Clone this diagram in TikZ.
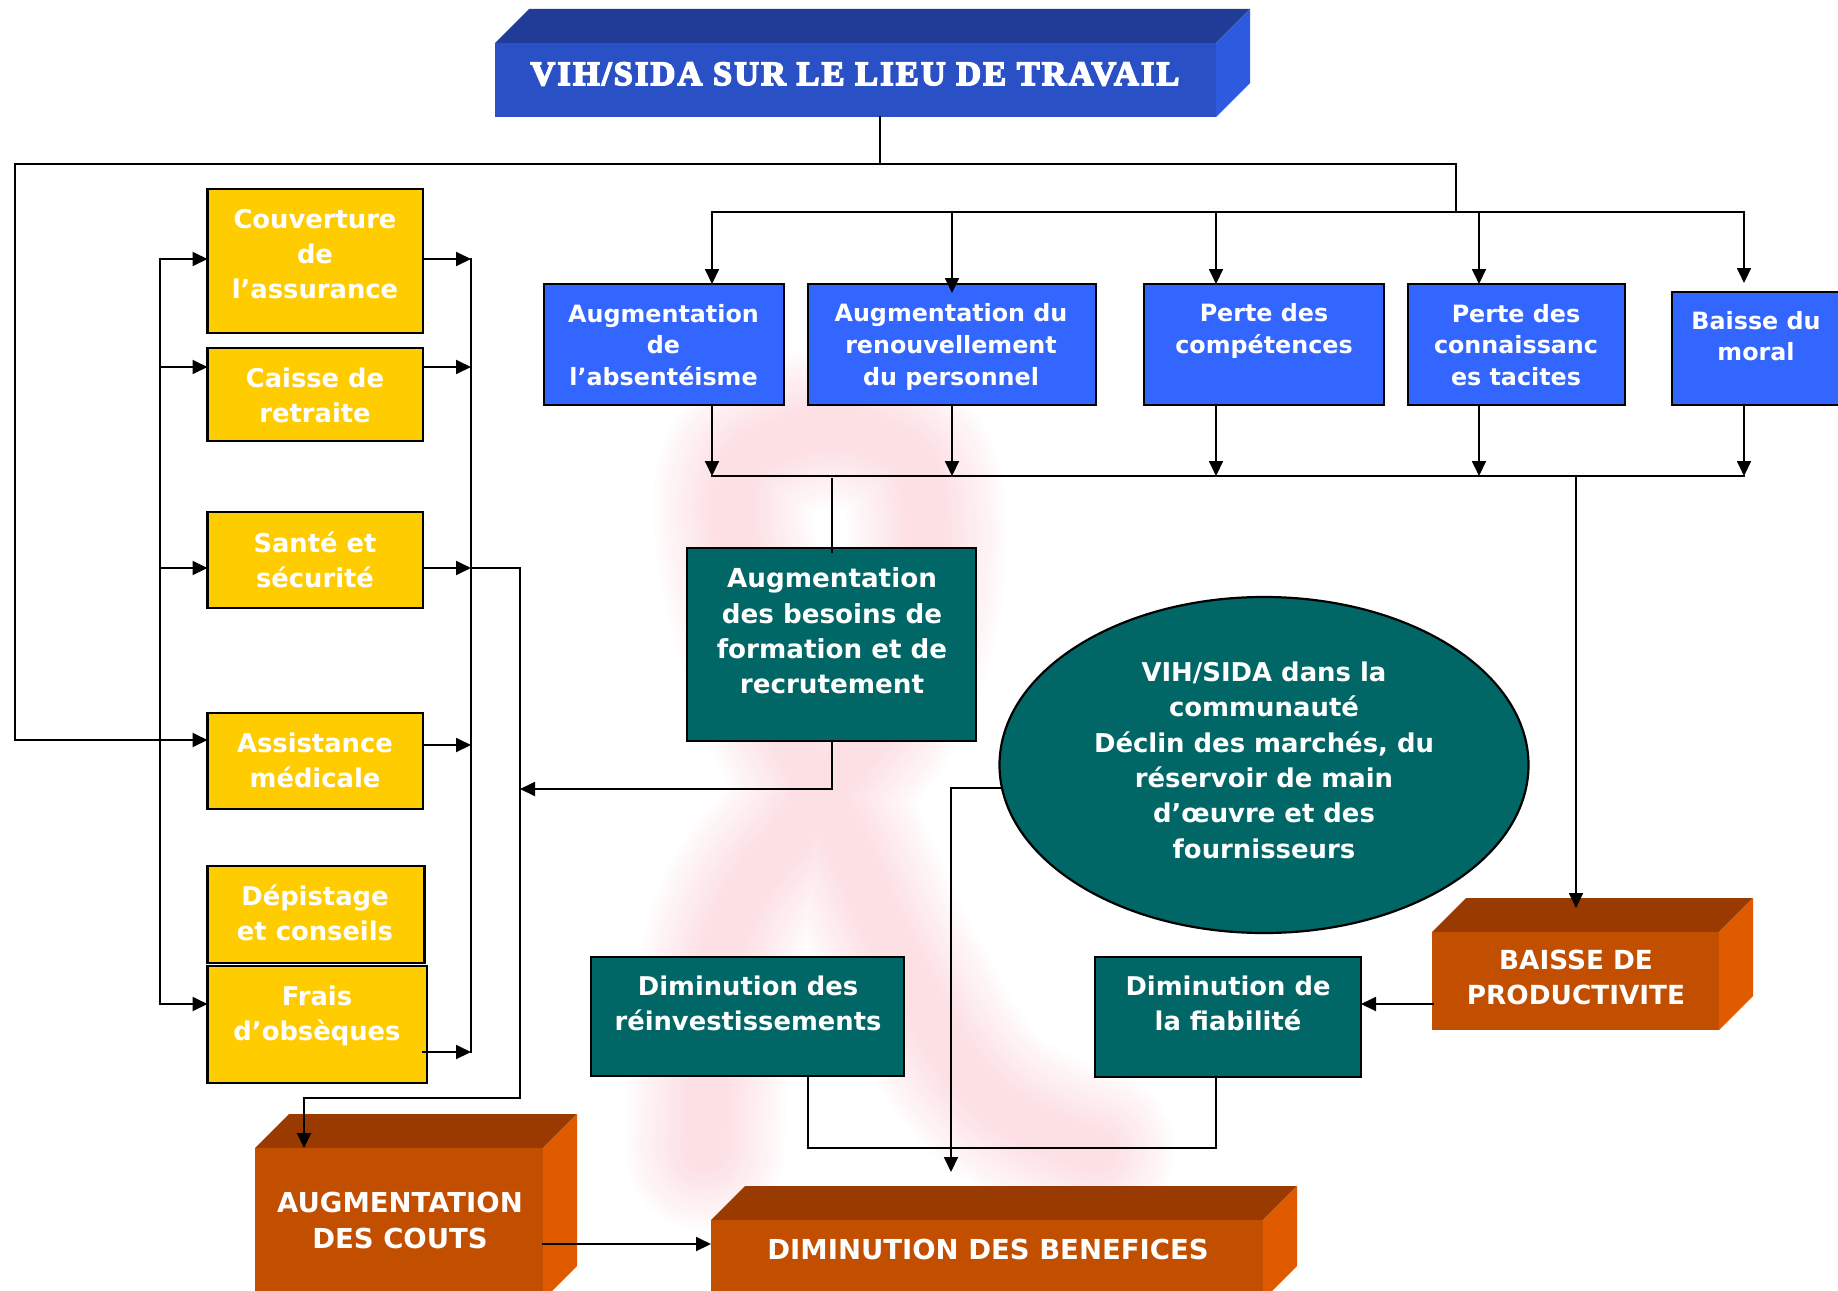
\documentclass[tikz,border=0pt]{standalone}
\usepackage{fontspec}
\setmainfont{DejaVu Sans}
\newfontfamily\titlefont{Liberation Serif}[FakeBold=5,LetterSpace=7]
\usetikzlibrary{shapes.geometric,arrows.meta}
\definecolor{tealbox}{HTML}{006666}
\definecolor{bluebox}{HTML}{3366FF}
\definecolor{yellowbox}{HTML}{FFCC00}
\definecolor{titlefront}{HTML}{2A50C6}
\definecolor{titletop}{HTML}{203C96}
\definecolor{titleside}{HTML}{2E5AE0}
\definecolor{orangefront}{HTML}{C24E00}
\definecolor{orangetop}{HTML}{993A00}
\definecolor{orangeside}{HTML}{E05A00}
\definecolor{ribbonpink}{HTML}{F58A9A}
\tikzset{
  wire/.style={draw=black,line width=1.9pt,line cap=rect},
  wirearrow/.style={wire,-{Triangle[length=15pt,width=14pt]}},
  flatcard/.style={draw=black,line width=2.2pt,inner sep=0pt,outer sep=0pt},
  solidface/.style={rectangle,inner sep=0pt,outer sep=0pt},
  caption/.style 2 args={text=white,align=center,inner sep=0pt,font=\bfseries\fontsize{#1}{#2}\selectfont},
  ribbon/.style={draw=ribbonpink,line cap=round,line join=round},
}
% text size used by the boxes that follow
\newcommand{\capsize}{26}
\newcommand{\capskip}{35}
% flat box: name, x0, y0, x1, y1, fill, caption centre x, caption centre y, caption
\newcommand{\cardbox}[9]{%
  \node[rectangle,flatcard,fill=#6,anchor=north west,
     minimum width={(#4-#2)*1pt},minimum height={(#5-#3)*1pt}] (#1) at (#2,#3) {};
  \node[caption={\capsize}{\capskip}] (#1-text) at (#7,#8) {#9};}
% raised box: name, x0, y0, x1, y1, depth, front, top, side
\newcommand{\solidblock}[9]{%
  \fill[#8] (#2,#3) -- ({#2+#6},{#3-#6}) -- ({#4+#6},{#3-#6}) -- (#4,#3) -- cycle;
  \fill[#9] (#4,#3) -- ({#4+#6},{#3-#6}) -- ({#4+#6},{#5-#6}) -- (#4,#5) -- cycle;
  \node[solidface,fill=#7,anchor=north west,
     minimum width={(#4-#2)*1pt},minimum height={(#5-#3)*1pt}] (#1) at (#2,#3) {};}
\begin{document}
\begin{tikzpicture}[x=1pt,y=-1pt]
\useasboundingbox (0,0) rectangle (1838,1290);
\clip (0,0) rectangle (1838,1290);

% faint ribbon emblem behind the chart
\foreach \w in {160,150,140,130,120,110,100,90,80,70,60,50,40}{
  \draw[ribbon,opacity=0.024,line width=\w pt] plot[smooth,tension=0.7] coordinates
    {(705,1150) (725,941) (800,820) (900,680) (925,500) (870,435) (780,440) (733,500) (770,680) (850,850) (900,960) (985,1094) (1095,1150)};
}

% raised title and result boxes
\solidblock{title}{495}{43}{1216}{117}{34}{titlefront}{titletop}{titleside}
\node[text=white,inner sep=0pt,font=\titlefont\bfseries\fontsize{34}{35}\selectfont] (title-text) at (855,74) {VIH/SIDA SUR LE LIEU DE TRAVAIL};
\solidblock{prod}{1432}{932}{1719}{1030}{34}{orangefront}{orangetop}{orangeside}
\solidblock{costs}{255}{1148}{543}{1300}{34}{orangefront}{orangetop}{orangeside}
\solidblock{profit}{711}{1220}{1263}{1300}{34}{orangefront}{orangetop}{orangeside}
\node[caption={26.3}{35}] (prod-text) at (1576,977) {BAISSE DE\\PRODUCTIVITE};
\node[caption={27.5}{35.5}] (costs-text) at (400,1220.5) {AUGMENTATION\\DES COUTS};
\node[caption={27.5}{35}] (profit-text) at (988,1249) {DIMINUTION DES BENEFICES};

% consequences for staff
\renewcommand{\capsize}{23.8}\renewcommand{\capskip}{31.6}
\cardbox{absent}{544}{284}{784}{405}{bluebox}{663.5}{345}{Augmentation\\de\\l’absentéisme}
\cardbox{turnover}{808}{284}{1096}{405}{bluebox}{951}{347}{Augmentation du\\renouvellement\\du personnel}
\cardbox{skills}{1144}{284}{1384}{405}{bluebox}{1264}{331}{Perte des\\compétences}
\cardbox{tacit}{1408}{284}{1625}{405}{bluebox}{1516}{345}{Perte des\\connaissanc\\es tacites}
\cardbox{morale}{1672}{292}{1845}{405}{bluebox}{1756}{336}{Baisse du\\moral}

% benefit and care items
\renewcommand{\capsize}{25.8}\renewcommand{\capskip}{35}
\cardbox{insurance}{207.5}{189}{423}{333}{yellowbox}{315}{254}{Couverture\\de\\l’assurance}
\cardbox{pension}{207.5}{348}{423}{441}{yellowbox}{315}{395}{Caisse de\\retraite}
\cardbox{health}{207.5}{512}{423}{608}{yellowbox}{315}{560}{Santé et\\sécurité}
\cardbox{medical}{207.5}{713}{423}{809}{yellowbox}{315}{760}{Assistance\\médicale}
\cardbox{testing}{207.5}{866}{424.5}{963}{yellowbox}{315}{913}{Dépistage\\et conseils}
\cardbox{funeral}{207.5}{966}{427}{1083}{yellowbox}{317}{1016}{Frais\\d’obsèques}

% organisational effects
\renewcommand{\capsize}{26.2}\renewcommand{\capskip}{35.4}
\cardbox{training}{687}{548}{976}{741}{tealbox}{832}{631}{Augmentation\\des besoins de\\formation et de\\recrutement}
\renewcommand{\capsize}{25.8}
\cardbox{reinvest}{591}{957}{904}{1076}{tealbox}{748}{1003.5}{Diminution des\\réinvestissements}
\cardbox{reliability}{1095}{957}{1361}{1077}{tealbox}{1228}{1003.5}{Diminution de\\la fiabilité}
\node[ellipse,flatcard,fill=tealbox,minimum width=529pt,minimum height=336pt] (community) at (1264,765) {};
\node[caption={25.9}{35.4}] (community-text) at (1264,760.2) {VIH/SIDA dans la\\communauté\\Déclin des marchés, du\\réservoir de main\\d’œuvre et des\\fournisseurs};

% junction points
\coordinate (trunk) at (880,164);
\coordinate (farleft) at (15,164);
\coordinate (trunkright) at (1456,164);
\coordinate (rowhub) at (1456,212);
\coordinate (rowleft) at (712,212);
\coordinate (rowmidA) at (952,212);
\coordinate (rowmidB) at (1216,212);
\coordinate (rowmidC) at (1479,212);
\coordinate (rowright) at (1744,212);
\coordinate (farleftlow) at (15,740);
\coordinate (turnoverhead) at (952,293);
\coordinate (moralehead) at (1744,283);

% distribution from the title
\draw[wire] (title.south -| trunk) -- (trunk);
\draw[wire] (trunkright) -- (rowhub);
\draw[wirearrow] (trunkright) -- (farleft) -- (farleftlow) -- (medical.west |- farleftlow);
\draw[wire] (rowleft) -- (rowright);
\draw[wirearrow] (rowleft) -- (absent.north -| rowleft);
\draw[wirearrow] (rowmidA) -- (turnoverhead);
\draw[wirearrow] (rowmidB) -- (skills.north -| rowmidB);
\draw[wirearrow] (rowmidC) -- (tacit.north -| rowmidC);
\draw[wirearrow] (rowright) -- (moralehead);

% collection line under the staff boxes
\coordinate (collectL) at (712,476);
\coordinate (collectT) at (952,476);
\coordinate (collectS) at (1216,476);
\coordinate (collectC) at (1479,476);
\coordinate (collectR) at (1744,476);
\draw[wire] (collectL) -- (collectR);
\draw[wirearrow] (absent.south -| collectL) -- (collectL);
\draw[wirearrow] (turnover.south -| collectT) -- (collectT);
\draw[wirearrow] (skills.south -| collectS) -- (collectS);
\draw[wirearrow] (tacit.south -| collectC) -- (collectC);
\draw[wirearrow] (morale.south -| collectR) -- (collectR);

% left feed bus and right collector bus
\coordinate (feedTop) at (160,259);
\coordinate (feedPension) at (160,367);
\coordinate (feedHealth) at (160,568);
\coordinate (feedFuneral) at (160,1004);
\coordinate (sumTop) at (471,259);
\coordinate (sumPension) at (471,367);
\coordinate (sumHealth) at (471,568);
\coordinate (sumMedical) at (471,745);
\coordinate (sumFuneral) at (471,1052);
\coordinate (costBus) at (520,568);
\coordinate (costBusLow) at (520,1098);
\coordinate (costDrop) at (304,1098);
\coordinate (trainingIn) at (520,789);
\coordinate (costsHead) at (304,1148);
\draw[wire] (feedTop) -- (feedFuneral);
\draw[wire] (sumTop) -- (sumFuneral);
\draw[wirearrow] (feedTop) -- (insurance.west |- feedTop);
\draw[wirearrow] (feedPension) -- (pension.west |- feedPension);
\draw[wirearrow] (feedHealth) -- (health.west |- feedHealth);
\draw[wirearrow] (feedFuneral) -- (funeral.west |- feedFuneral);
\draw[wirearrow] (insurance.east |- sumTop) -- (sumTop);
\draw[wirearrow] (pension.east |- sumPension) -- (sumPension);
\draw[wirearrow] (health.east |- sumHealth) -- (sumHealth);
\draw[wirearrow] (medical.east |- sumMedical) -- (sumMedical);
\draw[wirearrow] ([xshift=-4pt]funeral.east |- sumFuneral) -- (sumFuneral);

% cost branch
\draw[wire] (sumHealth) -- (costBus) -- (costBusLow);
\draw[wirearrow] (costBusLow) -- (costDrop) -- (costsHead);
\coordinate (profitIn) at (711,1244);
\draw[wirearrow] (costs.east |- profitIn) -- (profitIn);

% central links
\coordinate (stubTop) at (832,479);
\coordinate (stubLow) at (832,552);
\draw[wire] (stubTop) -- (stubLow);
\coordinate (trainingTurn) at (832,789);
\draw[wirearrow] (training.south -| trainingTurn) -- (trainingTurn) -- (trainingIn);
\coordinate (communityTurn) at (951,788);
\coordinate (communityOut) at (1001,788);
\coordinate (profitHead) at (951,1172);
\draw[wirearrow] (communityOut) -- (communityTurn) -- (profitHead);
\coordinate (reinvestTurn) at (808,1148);
\coordinate (reliabilityTurn) at (1216,1148);
\draw[wire] (reinvest.south -| reinvestTurn) -- (reinvestTurn) -- (reliabilityTurn) -- (reliability.south -| reliabilityTurn);

% productivity links
\coordinate (prodFeed) at (1576,478);
\coordinate (prodHead) at (1576,908);
\draw[wirearrow] (prodFeed) -- (prodHead);
\coordinate (prodOut) at (1433,1004);
\draw[wirearrow] (prodOut) -- (reliability.east |- prodOut);
\end{tikzpicture}
\end{document}
